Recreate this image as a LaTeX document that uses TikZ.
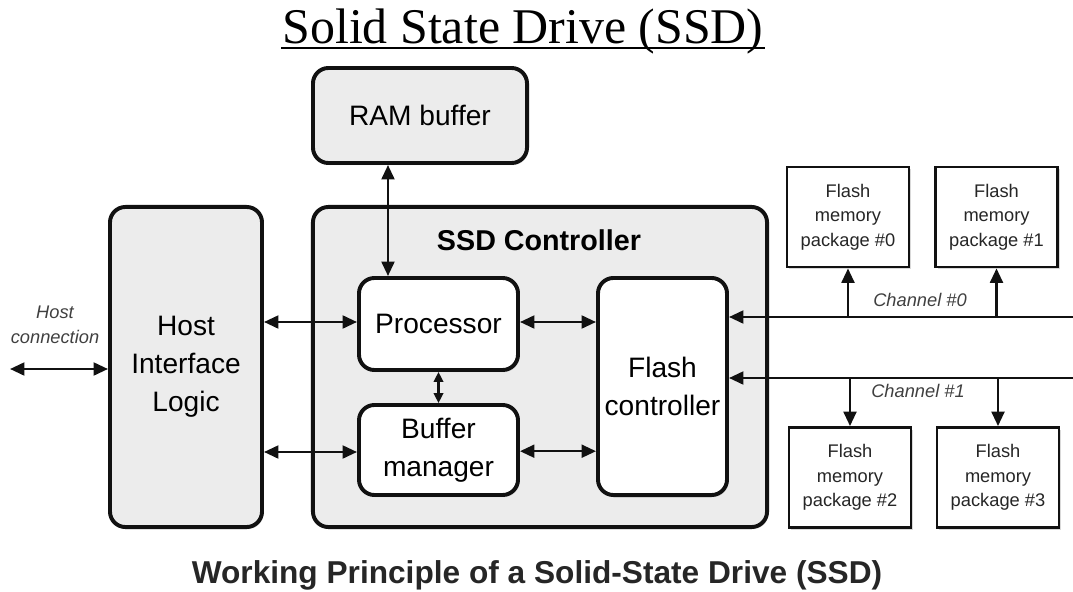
\documentclass[tikz,border=0pt]{standalone}
\usepackage{fontspec}
\setmainfont{Liberation Serif}
\setsansfont{Liberation Sans}
\usetikzlibrary{arrows.meta, positioning, shadows}
\definecolor{cfill}{HTML}{ECECEC}
\definecolor{cline}{HTML}{111111}
\tikzset{
  every picture/.style={font=\sffamily, line width=1.8pt},
  block/.style={draw=cline, fill=#1, rounded corners=11pt, line width=2.8pt, align=center, inner sep=2pt,
    font=\sffamily\fontsize{20}{27}\selectfont, drop shadow={opacity=0.25, shadow xshift=1pt, shadow yshift=-1.5pt}},
  block/.default=cfill,
  pkg/.style={draw=cline, fill=white, line width=2pt, align=center, inner sep=1pt,
    minimum width=3.05cm, minimum height=2.5cm, font=\sffamily\fontsize{13}{17.5}\selectfont, text=black!85,
    drop shadow={opacity=0.3, shadow xshift=1.5pt, shadow yshift=-1.5pt}},
  arrow/.style={{Triangle[length=3.6mm, width=3.2mm]}-{Triangle[length=3.6mm, width=3.2mm]}, draw=cline, line width=1.8pt},
  uparrow/.style={-{Triangle[length=3.6mm, width=3.2mm]}, draw=cline, line width=1.8pt},
  chan/.style={font=\sffamily\itshape\fontsize{13}{17.5}\selectfont, text=black!75, align=center},
}
\begin{document}
\begin{tikzpicture}[x=0.025cm, y=-0.025cm]
  \useasboundingbox (0,0) rectangle (1073,592);
  % title and caption
  \node[inner sep=0pt] (title) at (523,31) {\fontsize{35.5}{38}\selectfont\rmfamily Solid State Drive (SSD)};
  \draw[line width=1.4pt] ([yshift=-0.12cm]title.base west) -- ([yshift=-0.12cm]title.base east);
  \node[font=\sffamily\bfseries\fontsize{22.5}{26}\selectfont, text=black!85] (caption) at (537,575) {Working Principle of a Solid-State Drive (SSD)};
  % main blocks
  \node[block, minimum width=5.35cm, minimum height=2.375cm] (ram) at (420,115.5) {RAM buffer};
  \node[block, minimum width=3.8cm, minimum height=8cm] (host) at (186,367) {Host\\Interface\\Logic};
  \node[block, minimum width=11.35cm, minimum height=8cm] (ctrl) at (540,367) {};
  \node[font=\sffamily\bfseries\fontsize{20.4}{24}\selectfont] (ctrltitle) at (539,240) {SSD Controller};
  \node[block=white, minimum width=3.975cm, minimum height=2.3cm, drop shadow={opacity=0}] (proc) at (438.5,324) {Processor};
  \node[block=white, minimum width=3.975cm, minimum height=2.25cm, drop shadow={opacity=0}] (bufm) at (438.5,450) {Buffer\\manager};
  \node[block=white, minimum width=3.225cm, minimum height=5.425cm, drop shadow={opacity=0}] (fctl) at (662.5,386.5) {Flash\\controller};
  % flash packages
  \node[pkg] (pkg0) at (848,217) {Flash\\memory\\package \#0};
  \node[pkg] (pkg1) at (996.5,217) {Flash\\memory\\package \#1};
  \node[pkg] (pkg2) at (850,477.5) {Flash\\memory\\package \#2};
  \node[pkg] (pkg3) at (998,477.5) {Flash\\memory\\package \#3};
  % connections inside the drive
  \draw[arrow] ([xshift=-0.8cm]ram.south) -- ([xshift=-0.8cm]ram.south |- proc.north);
  \draw[arrow, {Triangle[length=2.5mm, width=2.4mm]}-{Triangle[length=2.5mm, width=2.4mm]}, line width=1.5pt] (proc.south) -- (bufm.north);
  \draw[arrow] ([yshift=0.05cm]host.east |- proc) -- ([yshift=0.05cm]proc.west);
  \draw[arrow] ([yshift=-0.05cm]host.east |- bufm) -- ([yshift=-0.05cm]bufm.west);
  \draw[arrow] ([yshift=0.05cm]proc.east) -- ([yshift=0.05cm]fctl.west |- proc);
  \draw[arrow] ([yshift=-0.03cm]bufm.east) -- ([yshift=-0.03cm]fctl.west |- bufm);
  % host side
  \coordinate (hc) at (10,369);
  \draw[arrow] (hc) -- (host.west |- hc);
  \node[chan] (hclabel) at (55,325) {Host\\connection};
  % channels
  \coordinate (ch0) at (1073,317);
  \coordinate (ch1) at (1073,378);
  \draw[uparrow] (ch0) -- (fctl.east |- ch0);
  \draw[uparrow] (ch1) -- (fctl.east |- ch1);
  \draw[uparrow] (pkg0.south |- ch0) -- (pkg0.south);
  \draw[uparrow] (pkg1.south |- ch0) -- (pkg1.south);
  \draw[uparrow] (pkg2.north |- ch1) -- (pkg2.north);
  \draw[uparrow] (pkg3.north |- ch1) -- (pkg3.north);
  \node[chan] (ch0label) at (920,300) {Channel \#0};
  \node[chan] (ch1label) at (918,391) {Channel \#1};
\end{tikzpicture}
\end{document}
